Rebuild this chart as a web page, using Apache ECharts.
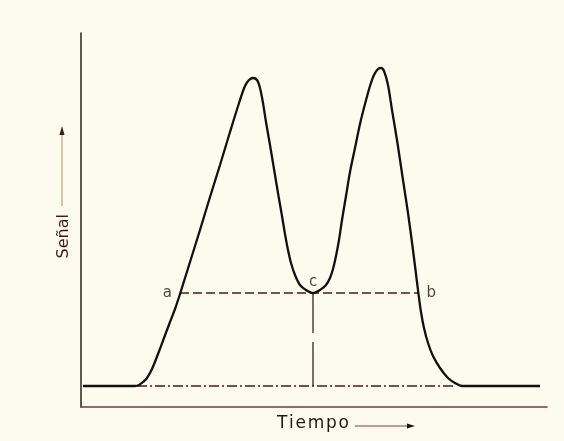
<!DOCTYPE html>
<html>
<head>
<meta charset="utf-8">
<script src="https://cdn.jsdelivr.net/npm/echarts@6/dist/echarts.min.js"></script>
<style>
html,body{margin:0;padding:0;background:#fdfbee;}
#c{width:564px;height:441px;}
</style>
</head>
<body>
<div id="c"></div>
<script>
// Chromatogram of two overlapping peaks (arbitrary units)
var tiempo = [0.2, 5.4, 5.8, 6.2, 6.6, 7.1, 7.7, 8.3, 8.9, 9.4, 9.9, 10.9, 11.9, 12.9, 13.9, 14.9, 15.9, 16.4, 16.8, 17.2, 17.6, 17.9, 18.2, 18.5, 18.9, 19.3, 19.7, 20.1, 20.4, 20.7, 21.0, 21.4, 21.9, 22.5, 23.2, 23.9, 24.5, 24.9, 25.2, 25.5, 25.8, 26.1, 26.5, 26.9, 27.4, 27.9, 28.4, 28.9, 29.3, 29.7, 30.0, 30.3, 30.7, 31.1, 31.6, 32.2, 32.7, 33.2, 33.7, 34.0, 34.3, 34.7, 35.2, 35.9, 36.7, 37.4, 38.1, 45.9];
var senal = [0, 0, 0.1, 0.4, 0.8, 1.7, 3.2, 4.8, 6.4, 7.7, 9.2, 12.4, 15.6, 18.9, 22.1, 25.4, 28.6, 30.0, 30.6, 30.8, 30.6, 29.8, 28.3, 26.4, 24.1, 21.7, 19.3, 17.0, 15.2, 13.6, 12.3, 11.1, 10.1, 9.6, 9.3, 9.6, 10.1, 10.8, 11.7, 13.0, 14.6, 16.6, 19.0, 21.4, 23.8, 26.2, 28.2, 30.0, 31.1, 31.7, 31.8, 31.5, 30.1, 27.6, 24.6, 20.6, 17.3, 13.6, 9.6, 7.4, 5.8, 4.3, 3.0, 1.8, 0.8, 0.3, 0, 0];
var puntoA = [9.9, 9.3];
var puntoB = [33.75, 9.3];
var puntoC = [23.2, 9.3];
var lineaBase = [[5.6, 0], [37.2, 0]];
var etiquetas = ['a', 'b', 'c'];
var ejeX = {min: 0, max: 46.6};
var ejeY = {min: -2.1, max: 35.3};

var curva = tiempo.map(function (t, i) { return [t, senal[i]]; });
var ink = '#141010';
var labelFont = {fontFamily: 'DejaVu Sans', fontSize: 15, color: '#2a1414'};

var chart = echarts.init(document.getElementById('c'), null, {renderer: 'canvas'});
chart.setOption({
  backgroundColor: '#fdfbee',
  animation: false,
  grid: {left: 81, right: 17, top: 33, bottom: 34},
  xAxis: {
    type: 'value', min: ejeX.min, max: ejeX.max,
    axisLine: {show: true, onZero: false, lineStyle: {color: '#7a3a38', width: 1.6}},
    axisTick: {show: false}, axisLabel: {show: false}, splitLine: {show: false}
  },
  yAxis: {
    type: 'value', min: ejeY.min, max: ejeY.max,
    axisLine: {show: true, onZero: false, lineStyle: {color: '#3a3025', width: 1.6}},
    axisTick: {show: false}, axisLabel: {show: false}, splitLine: {show: false}
  },
  series: [
    {
      type: 'line', data: curva, smooth: 0.3, symbol: 'none',
      lineStyle: {color: ink, width: 2.3}, z: 5
    },
    {
      type: 'line', data: [puntoA, puntoB], symbol: 'none',
      lineStyle: {color: '#4a1c1c', width: 1.3, type: [9, 4]},
      z: 3
    },
    {
      type: 'line', data: [puntoC, [puntoC[0], 0]], symbol: 'none',
      lineStyle: {color: '#4a1c1c', width: 1.3, type: [40, 9, 50, 5]},
      z: 3
    },
    {
      type: 'line', data: lineaBase, symbol: 'none',
      lineStyle: {color: '#4a1c1c', width: 1.3, type: [10, 3, 2, 3]},
      z: 3
    },
    {
      type: 'scatter', symbolSize: 0,
      data: [
        {value: puntoA, label: {show: true, formatter: etiquetas[0], position: 'left', distance: 8}},
        {value: puntoB, label: {show: true, formatter: etiquetas[1], position: 'right', distance: 8}},
        {value: puntoC, label: {show: true, formatter: etiquetas[2], position: 'top', distance: 3}}
      ],
      label: labelFont,
      z: 6
    }
  ],
  graphic: [
    {
      type: 'text', left: 56, top: 214, rotation: Math.PI / 2,
      style: {text: 'Señal', font: '16px "DejaVu Sans"', fill: '#3a1a1a'}
    },
    {type: 'line', shape: {x1: 62, y1: 206, x2: 62, y2: 134}, style: {stroke: '#a89a50', lineWidth: 1}},
    {type: 'polygon', shape: {points: [[62, 126], [59.5, 135], [64.5, 135]]}, style: {fill: '#3a1a1a'}},
    {
      type: 'text', left: 277, top: 415,
      style: {text: 'T\u200Ai\u200Ae\u200Am\u200Ap\u200Ao', font: '17px "DejaVu Sans"', fill: '#2a1414'}
    },
    {type: 'line', shape: {x1: 355, y1: 426, x2: 408, y2: 426}, style: {stroke: '#8a3a3a', lineWidth: 1}},
    {type: 'polygon', shape: {points: [[415, 426], [407, 423.5], [407, 428.5]]}, style: {fill: '#2a1414'}}
  ]
});
</script>
</body>
</html>
